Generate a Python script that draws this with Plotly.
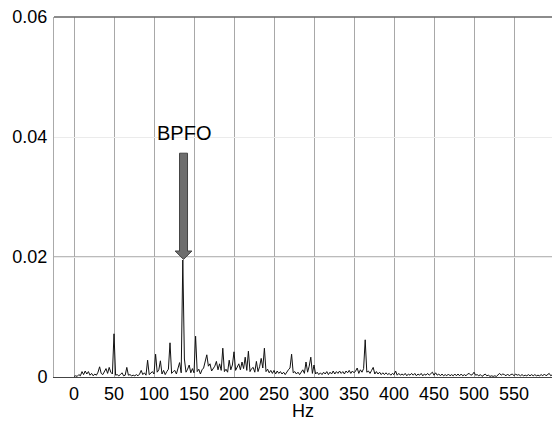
import numpy as np
import plotly.graph_objects as go

# Frequency bins (Hz), 2 Hz resolution
freq = list(range(0, 600, 2))

# Amplitude per bin, rows of 50 Hz
amp_000 = [0.0001, 0.0002, 0.0001, 0.0004, 0.0002, 0.0009, 0.0004, 0.0010, 0.0005, 0.0009,
           0.0003, 0.0006, 0.0002, 0.0005, 0.0003, 0.0008, 0.0017, 0.0006, 0.0004, 0.0010,
           0.0014, 0.0006, 0.0016, 0.0008, 0.0005]
amp_050 = [0.0072, 0.0003, 0.0004, 0.0002, 0.0004, 0.0007, 0.0002, 0.0003, 0.0016, 0.0003,
           0.0004, 0.0002, 0.0003, 0.0002, 0.0004, 0.0002, 0.0005, 0.0011, 0.0004, 0.0007,
           0.0003, 0.0028, 0.0004, 0.0006, 0.0009]
amp_100 = [0.0005, 0.0038, 0.0008, 0.0012, 0.0027, 0.0005, 0.0011, 0.0004, 0.0009, 0.0013,
           0.0057, 0.0006, 0.0009, 0.0011, 0.0005, 0.0015, 0.0024, 0.0007, 0.0195, 0.0030,
           0.0008, 0.0013, 0.0020, 0.0007, 0.0014]
amp_150 = [0.0007, 0.0068, 0.0009, 0.0013, 0.0005, 0.0012, 0.0015, 0.0025, 0.0037, 0.0018,
           0.0022, 0.0010, 0.0014, 0.0018, 0.0026, 0.0012, 0.0022, 0.0011, 0.0048, 0.0009,
           0.0013, 0.0008, 0.0028, 0.0012, 0.0020]
amp_200 = [0.0042, 0.0011, 0.0016, 0.0022, 0.0012, 0.0025, 0.0014, 0.0033, 0.0011, 0.0043,
           0.0009, 0.0014, 0.0016, 0.0008, 0.0026, 0.0009, 0.0017, 0.0031, 0.0015, 0.0048,
           0.0009, 0.0013, 0.0007, 0.0011, 0.0006]
amp_250 = [0.0011, 0.0005, 0.0010, 0.0006, 0.0009, 0.0005, 0.0008, 0.0004, 0.0009, 0.0012,
           0.0015, 0.0038, 0.0007, 0.0009, 0.0005, 0.0008, 0.0004, 0.0009, 0.0012, 0.0006,
           0.0025, 0.0008, 0.0018, 0.0033, 0.0006]
amp_300 = [0.0020, 0.0005, 0.0008, 0.0004, 0.0007, 0.0004, 0.0008, 0.0005, 0.0009, 0.0004,
           0.0008, 0.0005, 0.0010, 0.0005, 0.0009, 0.0006, 0.0010, 0.0006, 0.0009, 0.0005,
           0.0010, 0.0007, 0.0011, 0.0006, 0.0010]
amp_350 = [0.0007, 0.0010, 0.0015, 0.0006, 0.0012, 0.0008, 0.0014, 0.0062, 0.0008, 0.0010,
           0.0006, 0.0011, 0.0016, 0.0005, 0.0009, 0.0005, 0.0008, 0.0004, 0.0007, 0.0004,
           0.0007, 0.0004, 0.0006, 0.0003, 0.0006]
amp_400 = [0.0004, 0.0010, 0.0003, 0.0006, 0.0003, 0.0005, 0.0003, 0.0006, 0.0002, 0.0005,
           0.0003, 0.0006, 0.0003, 0.0006, 0.0002, 0.0005, 0.0003, 0.0006, 0.0002, 0.0005,
           0.0003, 0.0006, 0.0003, 0.0006, 0.0008]
amp_450 = [0.0003, 0.0007, 0.0003, 0.0005, 0.0002, 0.0005, 0.0002, 0.0004, 0.0002, 0.0005,
           0.0002, 0.0004, 0.0002, 0.0005, 0.0002, 0.0005, 0.0002, 0.0005, 0.0002, 0.0004,
           0.0002, 0.0005, 0.0006, 0.0003, 0.0004]
amp_500 = [0.0008, 0.0003, 0.0004, 0.0002, 0.0004, 0.0001, 0.0003, 0.0005, 0.0002, 0.0003,
           0.0001, 0.0002, 0.0001, 0.0002, 0.0001, 0.0003, 0.0006, 0.0003, 0.0005, 0.0004,
           0.0002, 0.0005, 0.0002, 0.0004, 0.0005]
amp_550 = [0.0002, 0.0005, 0.0003, 0.0004, 0.0002, 0.0004, 0.0002, 0.0003, 0.0002, 0.0004,
           0.0002, 0.0004, 0.0002, 0.0004, 0.0002, 0.0003, 0.0002, 0.0004, 0.0002, 0.0005,
           0.0002, 0.0004, 0.0006, 0.0002, 0.0004]

amplitude = (amp_000 + amp_050 + amp_100 + amp_150 + amp_200 + amp_250 +
             amp_300 + amp_350 + amp_400 + amp_450 + amp_500 + amp_550)

x_ticks = [0, 50, 100, 150, 200, 250, 300, 350, 400, 450, 500, 550]
y_ticks = [0, 0.02, 0.04, 0.06]
y_tick_labels = ["0", "0.02", "0.04", "0.06"]

bpfo_freq = 136.9
bpfo_label = "BPFO"

FONT = "Liberation Sans Narrow, Liberation Sans, Arial, sans-serif"

fig = go.Figure()
fig.add_trace(go.Scatter(
    x=freq, y=amplitude, mode="lines",
    line=dict(color="#111111", width=1),
    showlegend=False, hoverinfo="x+y",
))

# Block arrow pointing down at BPFO peak (data coordinates)
sh_w = 5.0   # half shaft width, Hz
hd_w = 10.5  # half head width, Hz
y_top, y_neck, y_tip = 0.0373, 0.0210, 0.0196
xc = bpfo_freq
path = (f"M {xc-sh_w},{y_top} L {xc+sh_w},{y_top} L {xc+sh_w},{y_neck} "
        f"L {xc+hd_w},{y_neck} L {xc},{y_tip} L {xc-hd_w},{y_neck} "
        f"L {xc-sh_w},{y_neck} Z")

fig.update_layout(
    width=552, height=421,
    margin=dict(l=54, r=0, t=17, b=44),
    paper_bgcolor="white", plot_bgcolor="white",
    font=dict(family=FONT, size=18, color="black"),
    xaxis=dict(
        range=[-25, 597.5], tickmode="array", tickvals=x_ticks,
        ticktext=[str(v) for v in x_ticks],
        showgrid=True, gridcolor="#a8a8a8", gridwidth=1,
        zeroline=False, showline=True, linecolor="#444444", linewidth=1,
        ticks="", tickfont=dict(family=FONT, size=18),
        title=dict(text="Hz", font=dict(family=FONT, size=18), standoff=4),
    ),
    yaxis=dict(
        range=[0, 0.06], tickmode="array", tickvals=y_ticks, ticktext=y_tick_labels,
        showgrid=True, gridcolor="#ebebeb", gridwidth=1,
        zeroline=False, showline=True, linecolor="#aaaaaa", linewidth=1,
        ticks="", ticklabelstandoff=2, tickfont=dict(family=FONT, size=18),
    ),
    shapes=[
        dict(type="line", xref="paper", yref="y", x0=0, x1=1, y0=0.02, y1=0.02,
             line=dict(color="#777777", width=1), layer="below"),
        dict(type="line", xref="paper", yref="paper", x0=0, x1=1, y0=1, y1=1,
             line=dict(color="#666666", width=1.5)),
        dict(type="path", xref="x", yref="y", path=path,
             fillcolor="#6e6e6e", line=dict(color="#444444", width=1)),
    ],
    annotations=[
        dict(x=bpfo_freq, y=0.0407, xref="x", yref="y", text=bpfo_label,
             showarrow=False, font=dict(family=FONT, size=20, color="black")),
    ],
)

fig.write_html("out.html")
